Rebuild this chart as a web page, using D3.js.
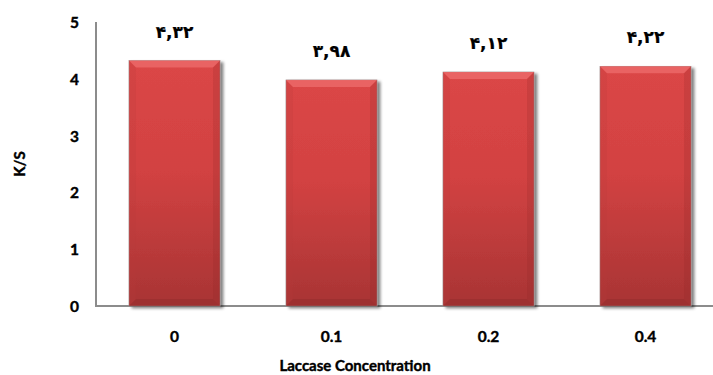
<!DOCTYPE html>
<html>
<head>
<meta charset="utf-8">
<script src="https://cdn.jsdelivr.net/npm/d3@7"></script>
<style>
  html, body { margin: 0; padding: 0; background: #fff; }
  svg { display: block; }
  text { font-family: Lato, "Open Sans", sans-serif; font-weight: bold; fill: #000; stroke: #000; stroke-width: 0.4px; }
</style>
</head>
<body>
<svg id="chart" width="713" height="375"></svg>
<script>
// K/S values at each laccase concentration
const categories = ["0", "0.1", "0.2", "0.4"];
const values = [4.32, 3.98, 4.12, 4.22];
const valueLabels = ["۴,۳۲", "۳,۹۸", "۴,۱۲", "۴,۲۲"];
const yTicks = [0, 1, 2, 3, 4, 5];

(function () {
const svg = d3.select("#chart");
const W = 713;
const plotL = 96, plotR = 724, plotT = 22, plotB = 306;

const x = d3.scaleBand().domain(categories).range([plotL, plotR]).paddingInner(0.42).paddingOuter(0.21);
const y = d3.scaleLinear().domain([0, 5]).range([plotB, plotT]);

const defs = svg.append("defs");
const grad = defs.append("linearGradient").attr("id", "barGrad")
  .attr("x1", 0).attr("y1", 0).attr("x2", 0).attr("y2", 1);
grad.append("stop").attr("offset", "0%").attr("stop-color", "#db4646");
grad.append("stop").attr("offset", "45%").attr("stop-color", "#d24242");
grad.append("stop").attr("offset", "100%").attr("stop-color", "#a83434");

const shadow = defs.append("filter").attr("id", "shadow")
  .attr("x", "-10%").attr("y", "-10%").attr("width", "130%").attr("height", "130%");
shadow.append("feGaussianBlur").attr("in", "SourceAlpha").attr("stdDeviation", 1.6).attr("result", "b");
shadow.append("feOffset").attr("in", "b").attr("dx", 2.5).attr("dy", 1.5).attr("result", "o");
shadow.append("feComponentTransfer").attr("in", "o").attr("result", "s")
  .append("feFuncA").attr("type", "linear").attr("slope", 0.5);
const merge = shadow.append("feMerge");
merge.append("feMergeNode").attr("in", "s");
merge.append("feMergeNode").attr("in", "SourceGraphic");

// Axis lines
svg.append("line").attr("x1", plotL).attr("x2", plotL).attr("y1", plotT).attr("y2", plotB)
  .attr("stroke", "#8c8c8c").attr("stroke-width", 2);
svg.append("line").attr("x1", plotL - 1).attr("x2", W).attr("y1", plotB).attr("y2", plotB)
  .attr("stroke", "#8c8c8c").attr("stroke-width", 2);

// Y tick labels
const yAxis = d3.axisLeft(y).tickValues(yTicks).tickSize(0).tickPadding(0).tickFormat(d3.format("d"));
const yg = svg.append("g").attr("transform", `translate(${plotL - 17},0)`).call(yAxis);
yg.select(".domain").remove();
yg.selectAll("text").style("font-size", "15.5px").style("font-family", "Lato, sans-serif")
  .style("font-weight", "bold").attr("dy", "0.35em");

// X tick labels
const xAxis = d3.axisBottom(x).tickSize(0).tickPadding(0);
const xg = svg.append("g").attr("transform", `translate(0,${plotB + 25})`).call(xAxis);
xg.select(".domain").remove();
xg.selectAll("text").style("font-size", "15.5px").style("font-family", "Lato, sans-serif")
  .style("font-weight", "bold");

// Axis titles
svg.append("text").attr("x", 355).attr("y", 371).attr("text-anchor", "middle")
  .style("font-size", "15px").text("Laccase Concentration");
svg.append("text").attr("transform", `translate(25,${(plotT + plotB) / 2}) rotate(-90)`)
  .attr("text-anchor", "middle").style("font-size", "15px").text("K/S");

// Bars with bevelled edges
const bars = svg.append("g").selectAll("g.bar").data(values).join("g").attr("class", "bar");
const bev = 7;
bars.each(function (v, i) {
  const g = d3.select(this);
  const x0 = x(categories[i]), w = x.bandwidth();
  const y0 = y(v), y1 = y(0);
  g.append("rect").attr("x", x0).attr("y", y0).attr("width", w).attr("height", y1 - y0)
    .attr("fill", "url(#barGrad)").attr("stroke", "#9a8a8a").attr("stroke-width", 0.6)
    .attr("filter", "url(#shadow)");
  g.append("polygon").attr("points", [[x0, y0], [x0 + w, y0], [x0 + w - bev, y0 + bev], [x0 + bev, y0 + bev]].join(" "))
    .attr("fill", "#ec6a6a").attr("opacity", 0.8);
  g.append("polygon").attr("points", [[x0, y0], [x0 + bev, y0 + bev], [x0 + bev, y1 - bev], [x0, y1]].join(" "))
    .attr("fill", "#b83a3a").attr("opacity", 0.2);
  g.append("polygon").attr("points", [[x0 + w, y0], [x0 + w - bev, y0 + bev], [x0 + w - bev, y1 - bev], [x0 + w, y1]].join(" "))
    .attr("fill", "#8e2a2a").attr("opacity", 0.2);
  g.append("polygon").attr("points", [[x0, y1], [x0 + bev, y1 - bev], [x0 + w - bev, y1 - bev], [x0 + w, y1]].join(" "))
    .attr("fill", "#8a2828").attr("opacity", 0.35);
});

// Value labels
svg.append("g").selectAll("text").data(values).join("text")
  .attr("x", (d, i) => x(categories[i]) + x.bandwidth() / 2)
  .attr("y", d => y(d) - 23)
  .attr("text-anchor", "middle")
  .style("font-family", "'DejaVu Sans', sans-serif")
  .style("font-size", "17px")
  .style("stroke-width", "0.2px")
  .text((d, i) => valueLabels[i]);
})();
</script>
</body>
</html>
